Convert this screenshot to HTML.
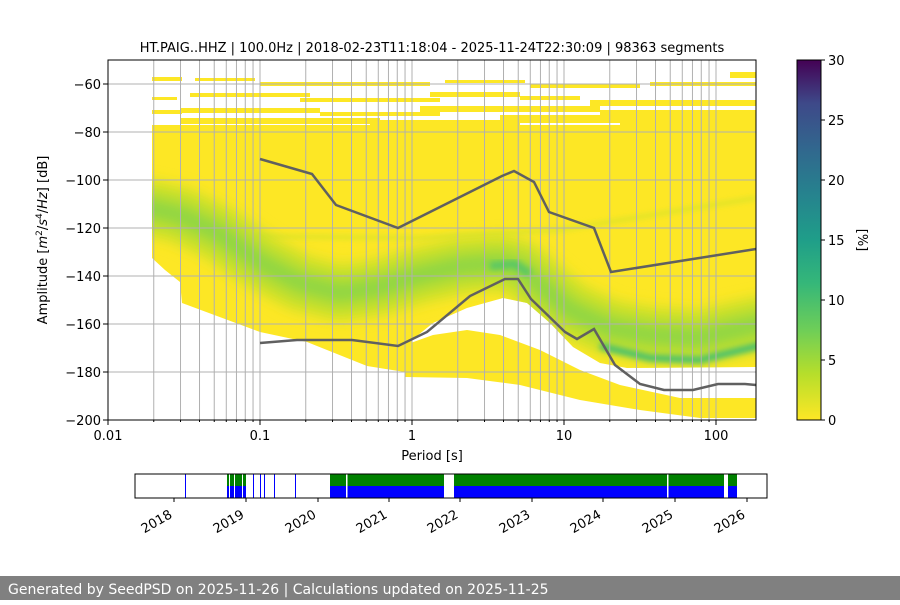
<!DOCTYPE html>
<html><head><meta charset="utf-8"><style>
html,body{margin:0;padding:0;background:#fff;}
body{width:900px;height:600px;overflow:hidden;position:relative;font-family:"Liberation Sans","DejaVu Sans",sans-serif;}
svg text{font-family:"DejaVu Sans","Liberation Sans",sans-serif;}
</style></head><body>
<svg width="900" height="600" viewBox="0 0 900 600" xmlns="http://www.w3.org/2000/svg">
<defs>
<filter id="b1" x="-20%" y="-50%" width="140%" height="200%"><feGaussianBlur stdDeviation="7"/></filter>
<filter id="b2" x="-20%" y="-50%" width="140%" height="200%"><feGaussianBlur stdDeviation="3"/></filter>
<linearGradient id="vir" x1="0" y1="1" x2="0" y2="0">
<stop offset="0" stop-color="#fde725"/><stop offset="0.13" stop-color="#b5de2b"/><stop offset="0.25" stop-color="#6ece58"/><stop offset="0.38" stop-color="#35b779"/><stop offset="0.5" stop-color="#1f9e89"/><stop offset="0.63" stop-color="#26828e"/><stop offset="0.75" stop-color="#31688e"/><stop offset="0.88" stop-color="#3e4989"/><stop offset="1" stop-color="#440154"/>
</linearGradient>
<clipPath id="ax"><rect x="152" y="60" width="604" height="360"/></clipPath>
<clipPath id="body"><polygon points="152,130 756,130 756,367 627,368 600,363 573,347 550,323 527,303 503,298 467,308 433,323 412,340 405,372 367,366 307,342 260,332 182,303 180,282 165,270 152,258"/></clipPath>
</defs>
<text x="432" y="52" font-size="13" text-anchor="middle">HT.PAIG..HHZ | 100.0Hz | 2018-02-23T11:18:04 - 2025-11-24T22:30:09 | 98363 segments</text>
<g clip-path="url(#ax)">
<g fill="#fde725">
<rect x="152" y="77" width="30" height="4"/><rect x="195" y="78" width="60" height="3"/><rect x="260" y="82" width="170" height="4"/><rect x="445" y="80" width="80" height="3"/><rect x="530" y="84" width="110" height="4"/><rect x="650" y="82" width="106" height="4"/>
<rect x="152" y="97" width="25" height="3"/><rect x="190" y="93" width="120" height="4"/><rect x="300" y="98" width="140" height="4"/><rect x="430" y="92" width="90" height="5"/><rect x="520" y="96" width="60" height="4"/><rect x="590" y="100" width="166" height="6"/>
<rect x="152" y="110" width="30" height="4"/><rect x="180" y="108" width="140" height="5"/><rect x="320" y="112" width="120" height="4"/><rect x="420" y="106" width="180" height="6"/><rect x="600" y="110" width="156" height="8"/>
<rect x="180" y="118" width="200" height="6"/><rect x="370" y="120" width="150" height="6"/><rect x="500" y="115" width="120" height="8"/><rect x="620" y="118" width="136" height="15"/>
<rect x="730" y="72" width="26" height="6"/>
<rect x="152" y="125" width="604" height="10"/>
</g>
<polygon fill="#fde725" points="152,130 756,130 756,367 627,368 600,363 573,347 550,323 527,303 503,298 467,308 433,323 412,340 405,372 367,366 307,342 260,332 182,303 180,282 165,270 152,258"/>
<polygon fill="#fde725" points="405,345 433,335 467,330 500,335 540,350 580,370 620,385 680,398 756,398 756,418 700,418 640,410 580,400 520,385 467,378 405,377"/>
<g clip-path="url(#body)">
<path d="M230,236 L420,238 L560,230 L756,198" stroke="#d0e22c" stroke-width="3" fill="none" filter="url(#b2)"/>
<path d="M140,206 L180,215 L220,234 L260,262 L300,283 L340,293 L380,287 L420,275 L460,266 L500,263 L520,268 L540,285 L570,310 L610,328 L650,335 L700,338 L770,322" stroke="#c6e02a" stroke-width="54" fill="none" filter="url(#b1)" stroke-linejoin="round"/>
<path d="M140,206 L180,215 L220,234 L260,262 L300,283 L340,293 L380,287 L420,275 L460,266 L500,263 L520,268 L540,285 L570,310 L610,328 L650,335 L700,338 L770,322" stroke="#8ed645" stroke-width="20" fill="none" filter="url(#b1)" stroke-linejoin="round"/>
<path d="M490,266 L515,264 L530,274" stroke="#5cc863" stroke-width="8" fill="none" filter="url(#b2)"/>
<path d="M600,346 L650,358 L700,360 L770,343" stroke="#4ac16d" stroke-width="7" fill="none" filter="url(#b2)"/>
</g>
</g>
<g id="grid" stroke="#b0b0b0" stroke-width="1"></g>
<g stroke="#b0b0b0" stroke-width="1">
<line x1="108" x2="756" y1="84" y2="84"/><line x1="108" x2="756" y1="132" y2="132"/><line x1="108" x2="756" y1="180" y2="180"/><line x1="108" x2="756" y1="228" y2="228"/><line x1="108" x2="756" y1="276" y2="276"/><line x1="108" x2="756" y1="324" y2="324"/><line x1="108" x2="756" y1="372" y2="372"/>
</g>
<polyline fill="none" stroke="#606060" stroke-width="2.5" points="260,159 312,174 336,205 398,228 502,176 514,171 534,182 549,212 594,228 611,272 756,249"/>
<polyline fill="none" stroke="#606060" stroke-width="2.5" points="260,343 297,340 352,340 398,346 427,332 470,296 505,279 518,279 531,299 565,332 577,339 594,329 615,365 640,384 664,390 693,390 718,384 745,384 756,385"/>
<rect x="108" y="60" width="648" height="360" fill="none" stroke="#000" stroke-width="1"/>
<g id="ticks" stroke="#000"></g>
<g font-size="13" text-anchor="end">
<text x="101" y="89">−60</text><text x="101" y="137">−80</text><text x="101" y="185">−100</text><text x="101" y="233">−120</text><text x="101" y="281">−140</text><text x="101" y="329">−160</text><text x="101" y="377">−180</text><text x="101" y="425">−200</text>
</g>
<g font-size="13" text-anchor="middle">
<text x="108" y="440">0.01</text><text x="260" y="440">0.1</text><text x="412" y="440">1</text><text x="564" y="440">10</text><text x="716" y="440">100</text>
<text x="432" y="460">Period [s]</text>
</g>
<text transform="translate(47,240) rotate(-90)" font-size="13" text-anchor="middle">Amplitude [<tspan font-style="italic">m</tspan><tspan font-size="9" dy="-5">2</tspan><tspan dy="5">/</tspan><tspan font-style="italic">s</tspan><tspan font-size="9" dy="-5">4</tspan><tspan dy="5">/</tspan><tspan font-style="italic">Hz</tspan>] [dB]</text>
<rect x="797" y="60" width="24" height="360" fill="url(#vir)" stroke="#000" stroke-width="1"/>
<g stroke="#000"><line x1="821" x2="825" y1="420" y2="420"/><line x1="821" x2="825" y1="360" y2="360"/><line x1="821" x2="825" y1="300" y2="300"/><line x1="821" x2="825" y1="240" y2="240"/><line x1="821" x2="825" y1="180" y2="180"/><line x1="821" x2="825" y1="120" y2="120"/><line x1="821" x2="825" y1="60" y2="60"/></g>
<g font-size="13"><text x="828" y="425">0</text><text x="828" y="365">5</text><text x="828" y="305">10</text><text x="828" y="245">15</text><text x="828" y="185">20</text><text x="828" y="125">25</text><text x="828" y="65">30</text></g>
<text transform="translate(858,240) rotate(90)" font-size="13" text-anchor="middle">[%]</text>
<g>
<rect x="330" y="474" width="114" height="12" fill="#008000"/><rect x="330" y="486" width="114" height="12" fill="#0000ff"/>
<rect x="454" y="474" width="270" height="12" fill="#008000"/><rect x="454" y="486" width="270" height="12" fill="#0000ff"/>
<rect x="728" y="474" width="9" height="12" fill="#008000"/><rect x="728" y="486" width="9" height="12" fill="#0000ff"/>
<rect x="346" y="474" width="1.5" height="24" fill="#fff"/><rect x="667" y="474" width="1.5" height="24" fill="#fff"/>
<rect x="227" y="474" width="19" height="12" fill="#008000"/><rect x="227" y="486" width="19" height="12" fill="#0000ff"/>
<rect x="229" y="474" width="1" height="24" fill="#fff"/><rect x="234" y="474" width="1" height="24" fill="#fff"/><rect x="242" y="474" width="1" height="24" fill="#fff"/>
<rect x="185" y="474" width="1" height="24" fill="#0000ff"/><rect x="253" y="474" width="1" height="24" fill="#0000ff"/><rect x="260" y="474" width="1" height="24" fill="#0000ff"/><rect x="264" y="474" width="1" height="24" fill="#0000ff"/><rect x="274" y="474" width="1" height="24" fill="#0000ff"/><rect x="295" y="474" width="1" height="24" fill="#0000ff"/>
<rect x="135" y="474" width="632" height="24" fill="none" stroke="#000"/>
<g stroke="#000"><line x1="174" x2="174" y1="498" y2="502"/><line x1="246" x2="246" y1="498" y2="502"/><line x1="318" x2="318" y1="498" y2="502"/><line x1="389" x2="389" y1="498" y2="502"/><line x1="460" x2="460" y1="498" y2="502"/><line x1="532" x2="532" y1="498" y2="502"/><line x1="603" x2="603" y1="498" y2="502"/><line x1="675" x2="675" y1="498" y2="502"/><line x1="747" x2="747" y1="498" y2="502"/></g>
<g font-size="13" text-anchor="end">
<text transform="translate(173,517) rotate(-30)">2018</text><text transform="translate(245,517) rotate(-30)">2019</text><text transform="translate(317,517) rotate(-30)">2020</text><text transform="translate(388,517) rotate(-30)">2021</text><text transform="translate(459,517) rotate(-30)">2022</text><text transform="translate(531,517) rotate(-30)">2023</text><text transform="translate(602,517) rotate(-30)">2024</text><text transform="translate(674,517) rotate(-30)">2025</text><text transform="translate(746,517) rotate(-30)">2026</text>
</g>
</g>
<rect x="0" y="576" width="900" height="24" fill="#808080"/>
<text x="8" y="594" font-size="14" fill="#fff">Generated by SeedPSD on 2025-11-26 | Calculations updated on 2025-11-25</text>
</svg>
<script>
(function(){
var ns="http://www.w3.org/2000/svg",g=document.getElementById("grid"),t=document.getElementById("ticks");
for(var d=-2;d<=2;d++)for(var k=1;k<=9;k++){
var x=108+152*(d+2)+152*Math.log10(k);
if(x>756.5)continue;
var l=document.createElementNS(ns,"line");l.setAttribute("x1",x);l.setAttribute("x2",x);l.setAttribute("y1",60);l.setAttribute("y2",420);g.appendChild(l);
var m=document.createElementNS(ns,"line");m.setAttribute("x1",x);m.setAttribute("x2",x);m.setAttribute("y1",420);m.setAttribute("y2",k==1?425:422);t.appendChild(m);}
[84,132,180,228,276,324,372,420].forEach(function(y){var m=document.createElementNS(ns,"line");m.setAttribute("x1",103);m.setAttribute("x2",108);m.setAttribute("y1",y);m.setAttribute("y2",y);t.appendChild(m);});
})();
</script>
</body></html>
